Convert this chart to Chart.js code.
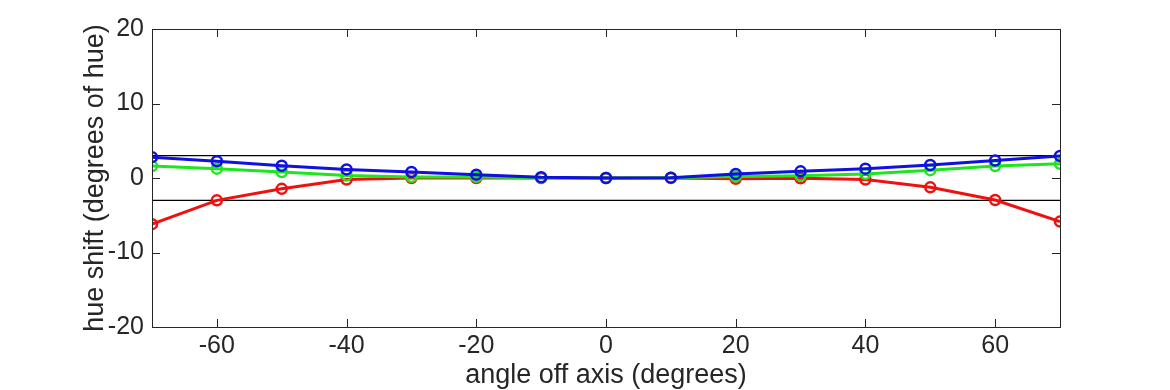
<!DOCTYPE html>
<html>
<head>
<meta charset="utf-8">
<script src="https://cdn.jsdelivr.net/npm/chart.js@4/dist/chart.umd.min.js"></script>
<style>
  html, body { margin: 0; padding: 0; background: #fff; }
  #wrap { width: 1170px; height: 390px; }
</style>
</head>
<body>
<div id="wrap"><canvas id="myChart" width="1170" height="390"></canvas></div>
<script>
const angles = [-70, -60, -50, -40, -30, -20, -10, 0, 10, 20, 30, 40, 50, 60, 70];
const redShift   = [-6.2, -3.0, -1.45, -0.2, 0.0, 0.0, 0.0, 0.0, 0.0, -0.1, -0.05, -0.2, -1.25, -2.95, -5.85];
const greenShift = [1.6, 1.25, 0.8, 0.35, 0.15, 0.15, 0.05, 0.0, 0.05, 0.2, 0.3, 0.55, 1.05, 1.6, 1.9];
const blueShift  = [2.8, 2.25, 1.65, 1.15, 0.8, 0.45, 0.1, 0.0, 0.05, 0.55, 0.9, 1.25, 1.75, 2.35, 2.95];
const limitHi = 3;
const limitLo = -3;
const xTicks = [-60, -40, -20, 0, 20, 40, 60];
const yTicks = [-20, -10, 0, 10, 20];

const ctx = document.getElementById('myChart');

function pts(vals) {
  return angles.map((a, i) => ({ x: a, y: vals[i] }));
}
function limitLine(v) {
  return [{ x: angles[0], y: v }, { x: angles[angles.length - 1], y: v }];
}

// box round the plot with inward ticks on every side, matlab style
const boxPlugin = {
  id: 'box',
  afterDatasetsDraw(chart) {
    const c = chart.ctx;
    const a = chart.chartArea;
    const xs = chart.scales.x, ys = chart.scales.y;
    c.save();
    c.strokeStyle = '#262626';
    c.lineWidth = 1;
    c.strokeRect(a.left + 0.5, a.top + 0.5, a.right - a.left, a.bottom - a.top);
    c.beginPath();
    const len = 8;
    xTicks.forEach(v => {
      const px = Math.round(xs.getPixelForValue(v)) + 0.5;
      c.moveTo(px, a.bottom); c.lineTo(px, a.bottom - len);
      c.moveTo(px, a.top); c.lineTo(px, a.top + len);
    });
    yTicks.forEach(v => {
      const py = Math.round(ys.getPixelForValue(v)) + 0.5;
      c.moveTo(a.left, py); c.lineTo(a.left + len, py);
      c.moveTo(a.right, py); c.lineTo(a.right - len, py);
    });
    c.stroke();
    c.restore();
  }
};

function series(label, vals, color, order) {
  return {
    label: label,
    data: pts(vals),
    borderColor: color,
    backgroundColor: 'transparent',
    borderWidth: 3,
    pointRadius: 5,
    pointBorderWidth: 2.5,
    pointBackgroundColor: 'transparent',
    pointBorderColor: color,
    order: order
  };
}

new Chart(ctx, {
  type: 'line',
  data: {
    datasets: [
      series('red', redShift, '#f01010', 3),
      series('green', greenShift, '#1ee61e', 2),
      series('blue', blueShift, '#1010e0', 1),
      { label: 'hi', data: limitLine(limitHi), borderColor: '#000', borderWidth: 1.2, pointRadius: 0, order: 4 },
      { label: 'lo', data: limitLine(limitLo), borderColor: '#000', borderWidth: 1.2, pointRadius: 0, order: 4 }
    ]
  },
  options: {
    responsive: false,
    animation: false,
    devicePixelRatio: 1,
    layout: { padding: { left: 80, right: 110, top: 29, bottom: 0 } },
    plugins: { legend: { display: false }, tooltip: { enabled: false } },
    scales: {
      x: {
        type: 'linear',
        min: -70,
        max: 70,
        afterBuildTicks: s => { s.ticks = xTicks.map(v => ({ value: v })); },
        afterFit: s => { s.height = 63; },
        grid: { display: false, drawTicks: false },
        border: { display: false },
        ticks: { color: '#262626', padding: 4, maxRotation: 0, font: { family: 'Liberation Sans', size: 25 } },
        title: {
          display: true,
          text: 'angle off axis (degrees)',
          color: '#262626',
          padding: 0,
          font: { family: 'Liberation Sans', size: 27, lineHeight: 1.1 }
        }
      },
      y: {
        min: -20,
        max: 20,
        afterBuildTicks: s => { s.ticks = yTicks.map(v => ({ value: v })); },
        afterFit: s => { s.width = 72; },
        grid: { display: false, drawTicks: false },
        border: { display: false },
        ticks: { color: '#262626', padding: 8, font: { family: 'Liberation Sans', size: 25 } },
        title: {
          display: true,
          text: 'hue shift (degrees of hue)',
          color: '#262626',
          padding: { top: 1, bottom: 0 },
          font: { family: 'Liberation Sans', size: 27, lineHeight: 1.1 }
        }
      }
    }
  },
  plugins: [boxPlugin]
});
</script>
</body>
</html>
